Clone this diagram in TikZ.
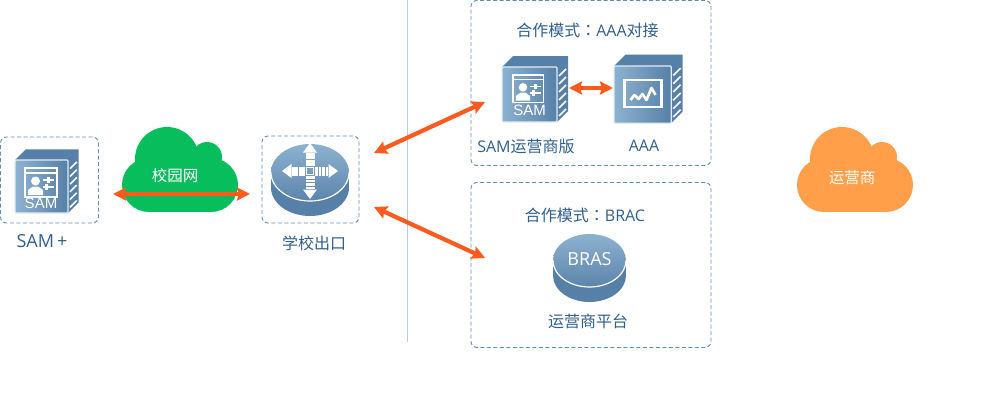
\documentclass[tikz,border=0pt]{standalone}
\usepackage{fontspec}
\setmainfont{Noto Sans CJK SC}
\setsansfont{Liberation Sans}
\newfontfamily\colonfont{Noto Sans CJK TC}
\newfontfamily\latinfont{Open Sans}
\usetikzlibrary{arrows.meta}
\definecolor{samblue}{HTML}{2F5F8E}
\definecolor{samdash}{HTML}{5F8DB5}
\definecolor{samlight}{HTML}{8DB2D0}
\definecolor{samdark}{HTML}{5780A8}
\definecolor{samorange}{HTML}{FF5A1E}
\definecolor{campusgreen}{HTML}{08BE5C}
\definecolor{carrierorange}{HTML}{FF9F4A}
\tikzset{
  dashbox/.style={draw=samdash,dash pattern=on 4pt off 2.5pt,rounded corners=6pt,line width=0.9pt,inner sep=0pt},
  labeltext/.style={text=samblue,font=\fontsize{16}{16}\selectfont,inner sep=0pt},
  cloudtext/.style={text=white,font=\fontsize{15.5}{16}\selectfont,inner sep=0pt},
  icontext/.style={text=white,font=\sffamily\fontsize{15}{15}\selectfont,inner sep=0pt},
  linkarrow/.style={{Stealth[length=13pt,width=13pt,inset=2pt]}-{Stealth[length=13pt,width=13pt,inset=2pt]},samorange,line width=4.2pt},
  pics/cloudshape/.style={code={
    \fill[#1] (45,32) circle[radius=32];
    \fill[#1] (85,30) circle[radius=15];
    \fill[#1] (27,58) circle[radius=27];
    \fill[#1] (89,58) circle[radius=27];
    \fill[#1] (27,35) rectangle (89,85);
  }},
  pics/serverbox/.style={code={
    \fill[samdark] (0,0) -- (11,-11) -- (66,-11) -- (66,44) -- (55,55) -- cycle;
    \foreach \y in {9,17,25,33,41,49}
      \draw[white,line width=1.6pt] (57,\y) -- (64,\y-7);
    \shade[left color=samlight,right color=samdark,rounded corners=1pt,draw=white!75!samlight,line width=1.2pt] (0,0) rectangle (55,55);
  }},
  pics/cylinderbase/.style args={#1/#2}{code={
    \fill[samdark] (0,15) ellipse[x radius=#1,y radius=#2];
    \fill[samdark] (-#1,0) rectangle (#1,15);
    \shade[top color=samlight,bottom color=samdark!90!samlight] (0,0) ellipse[x radius=#1,y radius=#2];
    \draw[white,line width=1.2pt] (-#1,0) arc[start angle=180,end angle=0,x radius=#1,y radius=#2];
  }},
  pics/crossarrows/.style={code={
    \foreach \a in {0,90,180,270}{
      \begin{scope}[rotate=\a]
        \foreach \s in {5,8.5,12,15.5}
          \fill[white] (\s,-4.5) rectangle (\s+2.8,4.5);
        \fill[white] (18.5,-7) -- (28,0) -- (18.5,7) -- cycle;
      \end{scope}
    }
    \draw[white,line width=1.6pt] (-3.5,-3.5) rectangle (3.5,3.5);
  }},
  pics/sampanel/.style={code={
    \draw[white,line width=1.5pt] (0,0) rectangle (32,29);
    \draw[white,line width=1.2pt] (0,5) -- (32,5);
    \fill[white] (10.5,13) circle[radius=4.5];
    \fill[white] (3,27) -- (3,22) -- (8,18.5) -- (13,18.5) -- (18,22) -- (18,27) -- cycle;
    \draw[white,line width=1.5pt] (18,12) -- (29,12) (18,19) -- (29,19);
    \fill[white] (22,9) rectangle (25,15);
    \fill[white] (20,16) rectangle (23,22);
  }},
  pics/aaapanel/.style={code={
    \draw[white,line width=2.4pt] (0,0) rectangle (37,27);
    \draw[white,line width=2.6pt,line join=round] (6,20) -- (10,15) -- (14,19) -- (18,14) -- (22,20) -- (27,8) -- (31,15);
  }},
}
\begin{document}
\begin{tikzpicture}[x=1pt,y=-1pt]
  \useasboundingbox (0,0) rectangle (985,405);
  % dashed groups
  \node[dashbox,minimum width=98pt,minimum height=86pt] (samzone) at (49.5,180) {};
  \node[dashbox,minimum width=97pt,minimum height=87pt] (exitzone) at (310.5,179.5) {};
  \node[dashbox,minimum width=240pt,minimum height=165pt] (aaazone) at (591,83) {};
  \node[dashbox,minimum width=240pt,minimum height=165pt] (braszone) at (591,265) {};

  % divider
  \coordinate (dividertop) at (407.5,0);
  \coordinate (dividerend) at (407.5,342);
  \draw[samdash!45,line width=0.5pt] (dividertop) -- (dividerend);

  % clouds
  \pic at (122,127) {cloudshape=campusgreen};
  \pic at (797,127) {cloudshape=carrierorange};
  \node[cloudtext] (campus) at (175,176) {校园网};
  \node[cloudtext] (carrier) at (852,178) {运营商};

  % devices
  \pic[scale=0.965] at (15,160) {serverbox};
  \pic at (25,168) {sampanel};
  \node[icontext] (samlogo) at (41,203) {SAM};

  \pic at (502,67) {serverbox};
  \pic[scale=0.95] at (513,75) {sampanel};
  \node[icontext] (samlogob) at (529.5,110.5) {SAM};

  \pic[scale=1.04] at (614,66) {serverbox};
  \pic at (624.5,80) {aaapanel};

  \pic at (310,172.5) {cylinderbase={39}/{28.5}};
  \begin{scope}[shift={(310,171)},yscale=0.7]
    \pic {crossarrows};
  \end{scope}

  \pic at (589.5,260.5) {cylinderbase={36.5}/{26.5}};
  \node[text=white,font=\latinfont\fontsize{18}{18}\selectfont,inner sep=0pt] (braslogo) at (589.5,259) {BRAS};

  % labels
  \node[labeltext,font=\latinfont\fontsize{18}{18}\selectfont] (samplus) at (42,241) {SAM\,+};
  \node[labeltext] (exitlabel) at (314,243) {学校出口};
  \node[labeltext] (aaamode) at (587.5,30) {合作模式{\colonfont ：}{\latinfont AAA}对接};
  \node[labeltext] (samcarrier) at (526,146) {{\latinfont SAM}运营商版};
  \node[labeltext,font=\latinfont\fontsize{16}{16}\selectfont] (aaalabel) at (644,146) {AAA};
  \node[labeltext] (brasmode) at (585,215) {合作模式{\colonfont ：}{\latinfont BRAC}};
  \node[labeltext] (carrierplat) at (588,321) {运营商平台};

  % links
  \coordinate (campusleft) at (113,194);
  \coordinate (campusright) at (250,194);
  \coordinate (exitup) at (374,153);
  \coordinate (samin) at (485,102);
  \coordinate (exitdown) at (374,207);
  \coordinate (brasin) at (485,258);
  \draw[linkarrow] (campusleft) -- (campusright);
  \draw[linkarrow] (exitup) -- (samin);
  \draw[linkarrow] (exitdown) -- (brasin);
  \coordinate (samout) at (569,88);
  \coordinate (aaain) at (613,88);
  \draw[linkarrow] (samout) -- (aaain);
\end{tikzpicture}
\end{document}
